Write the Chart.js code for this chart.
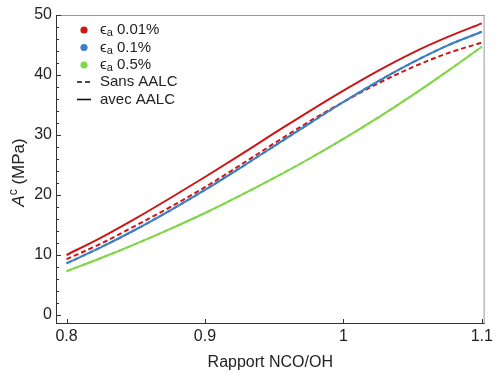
<!DOCTYPE html>
<html lang="fr">
<head>
  <meta charset="UTF-8" />
  <title>Ac vs Rapport NCO/OH</title>
  <script src="https://cdn.jsdelivr.net/npm/chart.js"></script>
  <style>
    body { margin: 0; background: #fff; }
  </style>
</head>
<body>
  <canvas id="acChart" width="496" height="373"></canvas>

<script>
// rapport NCO/OH
const ratios = [0.8, 0.825, 0.85, 0.875, 0.9, 0.925, 0.95, 0.975, 1.0, 1.025, 1.05, 1.075, 1.1];

// eps_a 0.01 %
const red_avec = [10.0, 12.9, 16.1, 19.5, 23.0, 26.6, 30.3, 33.9, 37.4, 40.7, 43.7, 46.3, 48.6];
const red_sans = [9.3, 11.9, 14.9, 18.0, 21.3, 24.9, 28.6, 32.2, 35.5, 38.6, 41.3, 43.6, 45.4];
// eps_a 0.1 %
const blue_avec = [8.6, 11.3, 14.25, 17.45, 20.85, 24.45, 28.15, 31.85, 35.5, 38.95, 42.1, 44.9, 47.2];
const blue_sans = [8.6, 11.3, 14.25, 17.45, 20.85, 24.45, 28.15, 31.85, 35.5, 38.95, 42.1, 44.9, 47.2];
// eps_a 0.5 %
const green_avec = [7.3, 9.5, 11.85, 14.35, 17.0, 19.85, 22.85, 26.0, 29.35, 32.9, 36.65, 40.6, 44.7];
const green_sans = [7.3, 9.5, 11.85, 14.35, 17.0, 19.85, 22.85, 26.0, 29.35, 32.9, 36.65, 40.6, 44.7];

const strainLabels = ['0.01%', '0.1%', '0.5%'];
const modeLabels = ['Sans AALC', 'avec AALC'];
const xTicks = [0.8, 0.9, 1.0, 1.1];
const yTicks = [0, 10, 20, 30, 40, 50];

const RED = '#cc1717';
const BLUE = '#3d7fc3';
const GREEN = '#83d64b';
const FONT = '"Liberation Sans", Arial, sans-serif';

function pts(vals) {
  return ratios.map((r, i) => ({ x: r, y: vals[i] }));
}

function serie(label, vals, color, dashed) {
  return {
    label: label,
    data: pts(vals),
    borderColor: color,
    borderWidth: 2,
    borderDash: dashed ? [5, 3] : [],
    pointRadius: 0,
    fill: false,
    cubicInterpolationMode: 'monotone'
  };
}

// cadre + graduations vers l'intérieur
const framePlugin = {
  id: 'frame',
  afterDraw(chart) {
    const { ctx, chartArea: a, scales } = chart;
    ctx.save();
    ctx.lineWidth = 1;
    ctx.strokeStyle = '#999';
    ctx.beginPath();
    ctx.moveTo(a.left, a.top + 0.5); ctx.lineTo(a.right, a.top + 0.5);
    ctx.moveTo(a.right - 0.5, a.top); ctx.lineTo(a.right - 0.5, a.bottom);
    ctx.stroke();
    ctx.strokeStyle = '#333';
    ctx.beginPath();
    ctx.moveTo(a.left + 0.5, a.top); ctx.lineTo(a.left + 0.5, a.bottom);
    ctx.moveTo(a.left, a.bottom - 0.5); ctx.lineTo(a.right, a.bottom - 0.5);
    for (let v = 0; v <= 50; v += 2) {
      const y = Math.round(scales.y.getPixelForValue(v)) + 0.5;
      ctx.moveTo(a.left, y);
      ctx.lineTo(a.left + (v % 10 === 0 ? 5 : 3), y);
    }
    xTicks.forEach(v => {
      const x = Math.round(scales.x.getPixelForValue(v)) + 0.5;
      ctx.moveTo(x, a.bottom);
      ctx.lineTo(x, a.bottom - 5);
    });
    ctx.stroke();

    // titre axe y : A^c (MPa)
    ctx.translate(19, (a.top + a.bottom) / 2 + 3);
    ctx.rotate(-Math.PI / 2);
    ctx.fillStyle = '#222';
    ctx.textBaseline = 'middle';
    ctx.textAlign = 'left';
    const parts = [
      { t: 'A', f: 'italic 17px ' + FONT, dy: 0 },
      { t: 'c', f: '12px ' + FONT, dy: -5 },
      { t: ' (MPa)', f: '17px ' + FONT, dy: 0 }
    ];
    let total = 0;
    parts.forEach(p => { ctx.font = p.f; p.w = ctx.measureText(p.t).width; total += p.w; });
    let cx = -total / 2;
    parts.forEach(p => { ctx.font = p.f; ctx.fillText(p.t, cx, p.dy); cx += p.w; });
    ctx.restore();
  }
};

// légende dans le graphe
const legendPlugin = {
  id: 'legendBox',
  afterDraw(chart) {
    const ctx = chart.ctx;
    const colors = [RED, BLUE, GREEN];
    ctx.save();
    ctx.textBaseline = 'middle';
    ctx.textAlign = 'left';
    strainLabels.forEach((lab, i) => {
      const y = 30 + i * 17.5;
      ctx.fillStyle = colors[i];
      ctx.beginPath();
      ctx.arc(84, y, 3.6, 0, 2 * Math.PI);
      ctx.fill();
      ctx.fillStyle = '#222';
      ctx.font = '15px ' + FONT;
      ctx.fillText('\u03F5', 100, y);
      let x = 100 + ctx.measureText('\u03F5').width;
      ctx.font = '11px ' + FONT;
      ctx.fillText('a', x, y + 3);
      x += ctx.measureText('a').width;
      ctx.font = '15px ' + FONT;
      ctx.fillText(' ' + lab, x, y);
    });
    modeLabels.forEach((lab, i) => {
      const y = 82 + i * 17.5;
      ctx.strokeStyle = '#111';
      ctx.lineWidth = 1.6;
      ctx.setLineDash(i === 0 ? [5, 3] : []);
      ctx.beginPath();
      ctx.moveTo(77, y);
      ctx.lineTo(91, y);
      ctx.stroke();
      ctx.setLineDash([]);
      ctx.fillStyle = '#222';
      ctx.font = '15px ' + FONT;
      ctx.fillText(lab, 100, y);
    });
    ctx.restore();
  }
};

new Chart(document.getElementById('acChart'), {
  type: 'line',
  data: {
    datasets: [
      serie('0.5% sans', green_sans, GREEN, true),
      serie('0.5% avec', green_avec, GREEN, false),
      serie('0.1% sans', blue_sans, BLUE, true),
      serie('0.1% avec', blue_avec, BLUE, false),
      serie('0.01% sans', red_sans, RED, true),
      serie('0.01% avec', red_avec, RED, false)
    ]
  },
  options: {
    responsive: false,
    animation: false,
    devicePixelRatio: 1,
    layout: { padding: { top: 15, right: 5, left: 0, bottom: 0 } },
    plugins: {
      legend: { display: false },
      tooltip: { enabled: false }
    },
    scales: {
      x: {
        type: 'linear',
        min: 0.7924,
        max: 1.102,
        afterBuildTicks: s => { s.ticks = xTicks.map(v => ({ value: v })); },
        afterFit: s => { s.height = 49; },
        grid: { display: false, drawTicks: false },
        border: { display: false },
        ticks: {
          font: { family: FONT, size: 16 },
          color: '#222',
          padding: 3,
          maxRotation: 0,
          autoSkip: false,
          callback: v => String(Math.round(v * 10) / 10)
        },
        title: {
          display: true,
          text: 'Rapport NCO/OH',
          font: { family: FONT, size: 16 },
          color: '#222',
          padding: { top: 0, bottom: 1 }
        }
      },
      y: {
        min: -1.5,
        max: 50,
        afterBuildTicks: s => { s.ticks = yTicks.map(v => ({ value: v })); },
        afterFit: s => { s.width = 56; },
        grid: { display: false, drawTicks: false },
        border: { display: false },
        ticks: {
          font: { family: FONT, size: 16 },
          color: '#222',
          padding: 4,
          autoSkip: false
        }
      }
    }
  },
  plugins: [framePlugin, legendPlugin]
});
</script>
</body>
</html>
